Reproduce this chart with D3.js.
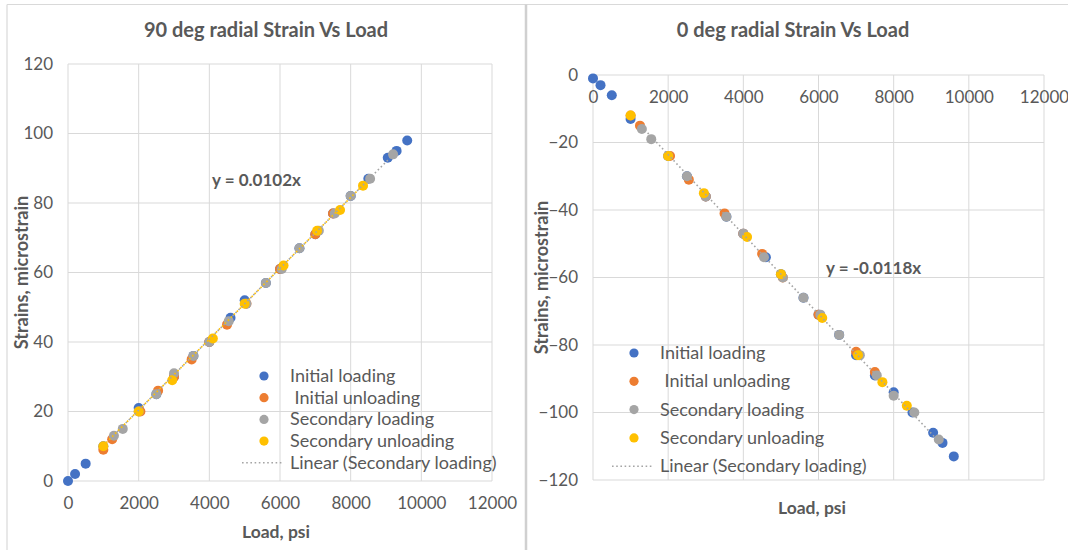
<!DOCTYPE html>
<html>
<head>
<meta charset="utf-8">
<script src="https://cdn.jsdelivr.net/npm/d3@7"></script>
<style>
body { margin: 0; background: #fff; }
text { font-family: Lato, "Open Sans", sans-serif; fill: #595959; }
</style>
</head>
<body>
<svg id="chart" width="1068" height="550"></svg>
<script>
// loads (psi) per series, shared by both gauges
const initial_loading_load = [0, 200, 500, 1000, 2000, 2500, 3000, 3550, 4000, 4600, 5000, 5600, 6000, 6550, 7000, 7500, 8000, 8500, 9050, 9300, 9600]
const initial_unloading_load = [7500, 7000, 6000, 5050, 4500, 4000, 3500, 3000, 2550, 2050, 1250, 1000]
const secondary_loading_load = [1300, 1550, 2000, 2500, 3000, 3550, 4000, 4550, 5050, 5600, 6050, 6550, 7100, 7550, 8000, 8550, 9200]
const secondary_unloading_load = [8350, 7700, 7050, 6100, 5000, 4100, 2950, 2000, 1000]

// 90 deg gauge strains
const s90_initial_loading = [0, 2, 5, 10, 21, 25, 30, 36, 40, 47, 52, 57, 61, 67, 71, 77, 82, 87, 93, 95, 98]
const s90_initial_unloading = [77, 71, 61, 51, 45, 40, 35, 30, 26, 20, 12, 9]
const s90_secondary_loading = [13, 15, 20, 25, 31, 36, 40, 46, 51, 57, 61, 67, 72, 77, 82, 87, 94]
const s90_secondary_unloading = [85, 78, 72, 62, 51, 41, 29, 20, 10]

// 0 deg gauge strains
const s0_initial_loading = [-1, -3, -6, -13, -24, -30, -36, -42, -47, -54, -59, -66, -71, -77, -83, -89, -94, -100, -106, -109, -113]
const s0_initial_unloading = [-88, -82, -71, -60, -53, -47, -41, -36, -31, -24, -15, -12]
const s0_secondary_loading = [-16, -19, -24, -30, -36, -42, -47, -54, -60, -66, -71, -77, -83, -89, -95, -100, -108]
const s0_secondary_unloading = [-98, -91, -83, -72, -59, -48, -35, -24, -12]

const series_names = ['Initial loading', ' Initial unloading', 'Secondary loading', 'Secondary unloading']
const series_colors = ['#4472C4', '#ED7D31', '#A5A5A5', '#FFC000']
const trend_name = 'Linear (Secondary loading)'

const x_ticks = [0, 2000, 4000, 6000, 8000, 10000, 12000]
const y_ticks_90 = [0, 20, 40, 60, 80, 100, 120]
const y_ticks_0 = [0, -20, -40, -60, -80, -100, -120]

const slope_90 = 0.0102
const slope_0 = -0.0118

const svg = d3.select('#chart')

// outer frame of the two pasted charts
svg.append('line').attr('x1', 7).attr('x2', 1068).attr('y1', 4.5).attr('y2', 4.5).attr('stroke', '#d9d9d9').attr('stroke-width', 1.2)
svg.append('line').attr('x1', 7).attr('x2', 7).attr('y1', 4.5).attr('y2', 550).attr('stroke', '#d9d9d9').attr('stroke-width', 1.2)
svg.append('line').attr('x1', 526).attr('x2', 526).attr('y1', 4.5).attr('y2', 550).attr('stroke', '#d0d0d0').attr('stroke-width', 2.5)

function make_points(loads, strains){
	return loads.map((d, i) => ({x: d, y: strains[i]}))
}

function draw_chart(opt){
	const g = svg.append('g')

	const x = d3.scaleLinear().domain([0, 12000]).range([opt.left, opt.right])
	const y = d3.scaleLinear().domain(opt.y_domain).range([opt.bottom, opt.top])

	// gridlines
	g.selectAll('.vgrid').data(x_ticks).enter().append('line')
		.attr('x1', d => x(d)).attr('x2', d => x(d))
		.attr('y1', opt.top).attr('y2', opt.bottom)
		.attr('stroke', '#d9d9d9').attr('stroke-width', 1)
	g.selectAll('.hgrid').data(opt.y_ticks).enter().append('line')
		.attr('x1', opt.left).attr('x2', opt.right)
		.attr('y1', d => y(d)).attr('y2', d => y(d))
		.attr('stroke', '#d9d9d9').attr('stroke-width', 1)

	// y axis labels
	let y_axis = g.append('g')
		.attr('transform', 'translate(' + opt.left + ',0)')
		.call(d3.axisLeft(y).tickValues(opt.y_ticks).tickSize(0).tickPadding(15).tickFormat(d3.format('d')))
	y_axis.select('.domain').remove()
	y_axis.selectAll('text').style('font-size', '17px').style('font-family', 'Lato, sans-serif').attr('fill', '#595959')

	// x axis labels (at y = 0)
	let x_axis = g.append('g')
		.attr('transform', 'translate(0,' + y(0) + ')')
		.call(d3.axisBottom(x).tickValues(x_ticks).tickSize(0).tickPadding(16).tickFormat(d3.format('d')))
	x_axis.select('.domain').remove()
	x_axis.selectAll('text').style('font-size', '17px').style('font-family', 'Lato, sans-serif').attr('fill', '#595959')

	// scatter series
	opt.series.forEach(function(s, i){
		g.selectAll('.pt' + i).data(s).enter().append('circle')
			.attr('cx', d => x(d.x))
			.attr('cy', d => y(d.y))
			.attr('r', 5)
			.attr('fill', series_colors[i])
	})

	// trendlines, forced through origin
	opt.trends.forEach(function(t){
		g.append('line')
			.attr('x1', x(t.from)).attr('y1', y(t.slope * t.from))
			.attr('x2', x(t.to)).attr('y2', y(t.slope * t.to))
			.attr('stroke', t.color)
			.attr('stroke-width', 1.6)
			.attr('stroke-dasharray', '1.6,2.6')
	})

	// equation label
	g.append('text')
		.attr('x', opt.eq_x).attr('y', opt.eq_y)
		.style('font-size', '17px')
		.style('font-weight', 'bold')
		.text(opt.eq_text)

	// titles
	g.append('text')
		.attr('x', opt.title_x).attr('y', 37)
		.attr('text-anchor', 'middle')
		.style('font-size', '20px')
		.style('font-weight', 'bold')
		.text(opt.title)

	g.append('text')
		.attr('x', opt.xtitle_x).attr('y', opt.xtitle_y)
		.attr('text-anchor', 'middle')
		.style('font-size', '17.5px')
		.style('font-weight', 'bold')
		.text('Load, psi')

	g.append('text')
		.attr('transform', 'translate(' + opt.ytitle_x + ',' + ((opt.top + opt.bottom) / 2) + ') rotate(-90)')
		.attr('text-anchor', 'middle')
		.style('font-size', '18px')
		.style('font-weight', 'bold')
		.text('Strains, microstrain')

	// legend
	let legend = g.append('g')
	series_names.forEach(function(name, i){
		let ly = opt.leg_y + i * opt.leg_step
		legend.append('circle')
			.attr('cx', opt.leg_x).attr('cy', ly).attr('r', 4.6)
			.attr('fill', series_colors[i])
		legend.append('text')
			.attr('x', opt.leg_x + 26).attr('y', ly + 6)
			.style('font-size', '18px')
			.style('white-space', 'pre')
			.text(name)
	})
	let ly = opt.leg_y + 4 * opt.leg_step
	legend.append('line')
		.attr('x1', opt.leg_x - 22).attr('x2', opt.leg_x + 18)
		.attr('y1', ly).attr('y2', ly)
		.attr('stroke', '#A5A5A5').attr('stroke-width', 1.6)
		.attr('stroke-dasharray', '1.6,2.6')
	legend.append('text')
		.attr('x', opt.leg_x + 26).attr('y', ly + 6)
		.style('font-size', '18px')
		.text(trend_name)
}

draw_chart({
	left: 68, right: 492, top: 64, bottom: 481,
	y_domain: [0, 120], y_ticks: y_ticks_90,
	series: [
		make_points(initial_loading_load, s90_initial_loading),
		make_points(initial_unloading_load, s90_initial_unloading),
		make_points(secondary_loading_load, s90_secondary_loading),
		make_points(secondary_unloading_load, s90_secondary_unloading)
	],
	trends: [
		{from: 1300, to: 9200, slope: slope_90, color: '#A5A5A5'},
		{from: 1000, to: 8350, slope: slope_90, color: '#FFC000'}
	],
	eq_x: 212, eq_y: 186, eq_text: 'y = 0.0102x',
	title: '90 deg radial Strain Vs Load', title_x: 266,
	xtitle_x: 276, xtitle_y: 538, ytitle_x: 28,
	leg_x: 264, leg_y: 376, leg_step: 21.7
})

draw_chart({
	left: 593, right: 1044, top: 75, bottom: 480,
	y_domain: [-120, 0], y_ticks: y_ticks_0,
	series: [
		make_points(initial_loading_load, s0_initial_loading),
		make_points(initial_unloading_load, s0_initial_unloading),
		make_points(secondary_loading_load, s0_secondary_loading),
		make_points(secondary_unloading_load, s0_secondary_unloading)
	],
	trends: [
		{from: 1300, to: 9200, slope: slope_0, color: '#A5A5A5'}
	],
	eq_x: 826, eq_y: 274, eq_text: 'y = -0.0118x',
	title: '0 deg radial Strain Vs Load', title_x: 793,
	xtitle_x: 812, xtitle_y: 514, ytitle_x: 548,
	leg_x: 634, leg_y: 353, leg_step: 28.3
})
</script>
</body>
</html>
